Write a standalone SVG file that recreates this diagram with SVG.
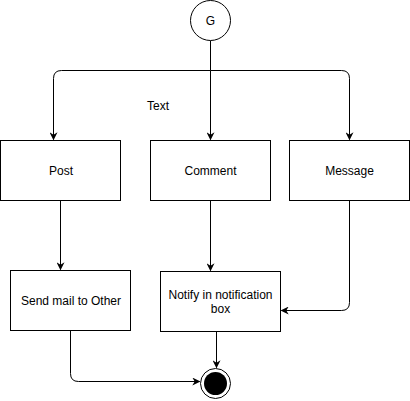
<svg xmlns="http://www.w3.org/2000/svg" width="410" height="401" viewBox="0 0 410 401">
<style>
.box{fill:#fff;stroke:#000;stroke-width:1}
.lbl{font-family:"Liberation Sans",Arial,sans-serif;font-size:12px;fill:#000;text-anchor:middle;dominant-baseline:central}
.edge{fill:none;stroke:#000;stroke-width:1}
</style>
<defs>
<marker id="arr" viewBox="0 0 10 10" refX="9" refY="5" markerWidth="8" markerHeight="8" markerUnits="userSpaceOnUse" orient="auto">
<path d="M0,0 L10,5 L0,10 L3,5 Z" fill="#000"/>
</marker>
</defs>
<rect width="410" height="401" fill="#fff"/>
<g id="connectors">
<path class="edge" d="M210.5,40.5 V70.5" />
<path class="edge" d="M210.5,70.5 H61.5 Q53.5,70.5 53.5,78.5 V139.5" marker-end="url(#arr)"/>
<path class="edge" d="M210.5,70.5 H341.5 Q349.5,70.5 349.5,78.5 V139.5" marker-end="url(#arr)"/>
<path class="edge" d="M210.5,70.5 V139.5" marker-end="url(#arr)"/>
<path class="edge" d="M60.5,200.5 V269.5" marker-end="url(#arr)"/>
<path class="edge" d="M210.5,200.5 V270.5" marker-end="url(#arr)"/>
<path class="edge" d="M349.5,200.5 V302.5 Q349.5,310.5 341.5,310.5 H281.5" marker-end="url(#arr)"/>
<path class="edge" d="M216.5,331.5 V367.5" marker-end="url(#arr)"/>
<path class="edge" d="M70.5,330.5 V373.5 Q70.5,381.5 78.5,381.5 H199.5" marker-end="url(#arr)"/>
</g>
<g id="start">
<circle cx="210.5" cy="20.5" r="20" class="box"/>
<text class="lbl" x="210.5" y="20.5">G</text>
</g>
<g id="label-text">
<text class="lbl" x="158" y="105.5">Text</text>
</g>
<g id="post">
<rect class="box" x="0.5" y="140.5" width="120" height="60"/>
<text class="lbl" x="61" y="170.5">Post</text>
</g>
<g id="comment">
<rect class="box" x="150.5" y="140.5" width="120" height="60"/>
<text class="lbl" x="210.5" y="170.5">Comment</text>
</g>
<g id="message">
<rect class="box" x="289.5" y="140.5" width="120" height="60"/>
<text class="lbl" x="349.5" y="170.5">Message</text>
</g>
<g id="sendmail">
<rect class="box" x="10.5" y="270.5" width="120" height="60"/>
<text class="lbl" x="71" y="300.5">Send mail to Other</text>
</g>
<g id="notify">
<rect class="box" x="160.5" y="271.5" width="120" height="60"/>
<text class="lbl" x="220.5" y="294.5">Notify in notification</text>
<text class="lbl" x="220.5" y="308.5">box</text>
</g>
<g id="end">
<circle cx="215.5" cy="383.5" r="15" class="box"/>
<circle cx="215.5" cy="383.5" r="11.5" fill="#000"/>
</g>
</svg>
